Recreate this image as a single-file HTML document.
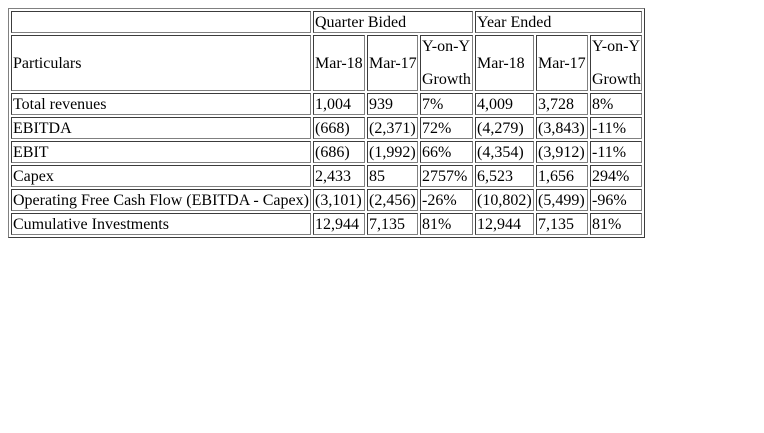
<!DOCTYPE html>
<html lang="en">
<head>
<meta charset="utf-8">
<title>Financial summary table</title>
<style>
html,body{margin:0;padding:0;background:#fff;width:764px;height:433px;overflow:hidden}
table{position:absolute;left:8px;top:8px;width:637px;height:230px;box-sizing:border-box;table-layout:fixed;border-collapse:separate;border-spacing:2px;border:1px solid;border-color:#808080 #3c3c3c #3c3c3c #808080;font:16px/18px "Liberation Serif",serif;color:#000}
td{box-sizing:border-box;border:1px solid;border-color:#3c3c3c #808080 #808080 #3c3c3c;padding:2px 1px 0;white-space:nowrap;overflow:visible}
tr{height:22px}
tr.tall{height:56px}
tr.tall td{padding:3px 1px 1px}
tr.tall td.two{vertical-align:top;padding:2px 1px 0}
.two div+div{margin-top:15px}
</style>
</head>
<body>
<table>
<colgroup><col style="width:300px"><col style="width:52px"><col style="width:51px"><col style="width:53px"><col style="width:59px"><col style="width:52px"><col style="width:52px"></colgroup>
<tr><td></td><td colspan="3">Quarter Bided</td><td colspan="3">Year Ended</td></tr>
<tr class="tall"><td>Particulars</td><td>Mar-18</td><td>Mar-17</td><td class="two"><div>Y-on-Y</div><div>Growth</div></td><td>Mar-18</td><td>Mar-17</td><td class="two"><div>Y-on-Y</div><div>Growth</div></td></tr>
<tr><td>Total revenues</td><td>1,004</td><td>939</td><td>7%</td><td>4,009</td><td>3,728</td><td>8%</td></tr>
<tr><td>EBITDA</td><td>(668)</td><td>(2,371)</td><td>72%</td><td>(4,279)</td><td>(3,843)</td><td>-11%</td></tr>
<tr><td>EBIT</td><td>(686)</td><td>(1,992)</td><td>66%</td><td>(4,354)</td><td>(3,912)</td><td>-11%</td></tr>
<tr><td>Capex</td><td>2,433</td><td>85</td><td>2757%</td><td>6,523</td><td>1,656</td><td>294%</td></tr>
<tr><td>Operating Free Cash Flow (EBITDA - Capex)</td><td>(3,101)</td><td>(2,456)</td><td>-26%</td><td>(10,802)</td><td>(5,499)</td><td>-96%</td></tr>
<tr><td>Cumulative Investments</td><td>12,944</td><td>7,135</td><td>81%</td><td>12,944</td><td>7,135</td><td>81%</td></tr>
</table>
</body>
</html>
